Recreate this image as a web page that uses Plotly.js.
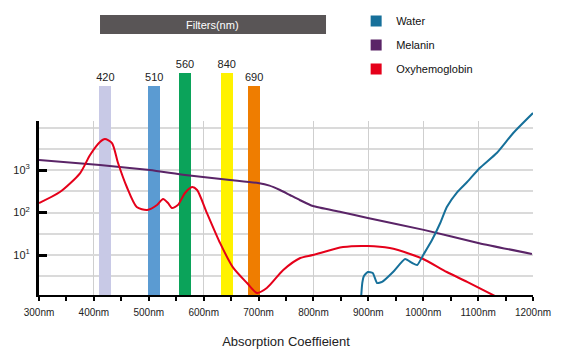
<!DOCTYPE html>
<html>
<head>
<meta charset="utf-8">
<script src="https://cdn.plot.ly/plotly-3.0.1.min.js"></script>
<style>html,body{margin:0;padding:0;background:#fff;}#chart{width:587px;height:353px;}</style>
</head>
<body>
<div id="chart"></div>
<script>
// ---- data ----
var melaninNm  = [300, 411, 502, 566, 648, 699, 720, 739, 757, 775, 799, 850, 899, 1001, 1102, 1198];
var melaninVal = [1718, 1312, 1000, 762, 582, 494, 430, 338, 258, 197, 142, 103, 74, 39, 19, 10.6];

var oxyNm  = [300, 338, 375, 393, 411, 420, 433, 444, 460, 478, 497, 515, 526, 535, 542, 553, 566, 579, 588, 606, 630, 653, 679, 697, 715, 745, 776, 799, 854, 899, 939, 976, 1000, 1043, 1080, 1131];
var oxyVal = [167, 303, 849, 2254, 4560, 5360, 4315, 1462, 398, 135, 115, 150, 208, 167, 128, 150, 288, 398, 338, 97, 19, 5.2, 2.19, 1.28, 1.67, 4.44, 8.5, 10, 15.4, 16.3, 14.6, 10.6, 8.05, 3.98, 2.32, 1.08];

var waterNm  = [887, 889, 892, 899, 908, 916, 925, 945, 967, 980, 989, 1000, 1016, 1031, 1043, 1062, 1080, 1103, 1134, 1164, 1200];
var waterVal = [1.08, 2.2, 3.2, 3.98, 3.77, 2.19, 2.32, 3.98, 8.05, 6.48, 5.82, 10, 22.5, 56.6, 135, 303, 522, 1114, 2512, 7430, 21900];

var filterNm     = [421, 510, 566, 642, 692];
var filterLabels = ['420', '510', '560', '840', '690'];

var xTickVals  = [300, 400, 500, 600, 700, 800, 900, 1000, 1100, 1200];
var xTickText  = xTickVals.map(function (v) { return v + 'nm'; });
var yTickVals  = [10, 100, 1000];
var yTickText  = ['10<sup>1</sup>', '10<sup>2</sup>', '10<sup>3</sup>'];
var yGridMinor = [Math.pow(10, 0.5), Math.pow(10, 1.5), Math.pow(10, 2.5), Math.pow(10, 3.5), 10000];

var seriesNames = ['Water', 'Melanin', 'Oxyhemoglobin'];

// ---- styles ----
var colors = {Water: '#16709a', Melanin: '#5a2467', Oxyhemoglobin: '#e5001a'};
var filterColors = ['#c8c9e6', '#5b9bd2', '#0ba35a', '#fff200', '#ef7d00'];
var filterHeights = [0.7085, 0.7085, 0.7525, 0.7525, 0.7085];
var font = 'Liberation Sans, Arial, sans-serif';

var traces = [];
// legend entries (square swatches) live on the gridded base subplot
seriesNames.forEach(function (n, i) {
  traces.push({type: 'scatter', mode: 'markers', x: [null], y: [null], name: n, legendgroup: 'g' + i,
    marker: {symbol: 'square', size: 11, color: colors[n]}, xaxis: 'x', yaxis: 'y', hoverinfo: 'skip'});
});
traces.push({
  type: 'bar', x: filterNm, y: filterHeights, width: 22,
  marker: {color: filterColors, line: {width: 0}},
  text: filterLabels, textposition: 'outside', cliponaxis: false, constraintext: 'none',
  textfont: {family: font, size: 11, color: '#222'},
  xaxis: 'x2', yaxis: 'y2', showlegend: false, hoverinfo: 'skip'
});
traces.push({type: 'scatter', mode: 'lines', x: melaninNm, y: melaninVal, line: {color: colors.Melanin, width: 2, shape: 'spline', smoothing: 0.5}, xaxis: 'x3', yaxis: 'y3', showlegend: false});
traces.push({type: 'scatter', mode: 'lines', x: oxyNm, y: oxyVal, line: {color: colors.Oxyhemoglobin, width: 2, shape: 'spline', smoothing: 0.7}, xaxis: 'x3', yaxis: 'y3', showlegend: false});
traces.push({type: 'scatter', mode: 'lines', x: waterNm, y: waterVal, line: {color: colors.Water, width: 2, shape: 'spline', smoothing: 0.5}, xaxis: 'x3', yaxis: 'y3', showlegend: false});

var xr = [300, 1200];
var layout = {
  width: 587, height: 353,
  margin: {l: 39, r: 54, t: 0, b: 58, autoexpand: false},
  paper_bgcolor: '#fff', plot_bgcolor: 'rgba(0,0,0,0)',
  font: {family: font, color: '#222'},
  showlegend: true,
  legend: {x: 0.642, y: 0.978, xanchor: 'left', yanchor: 'top', font: {family: font, size: 11, color: '#111'},
    traceorder: 'grouped', tracegroupgap: 5, bgcolor: 'rgba(0,0,0,0)'},
  xaxis: {
    domain: [0, 1], anchor: 'y', range: xr, tickmode: 'array', tickvals: xTickVals, ticktext: xTickText,
    ticks: 'outside', ticklen: 4, tickwidth: 2, tickcolor: '#000',
    showline: true, linewidth: 2, linecolor: '#000',
    showgrid: true, gridcolor: '#cfcfcf', gridwidth: 1, zeroline: false,
    minor: {dtick: 50, tick0: 300, ticks: 'outside', ticklen: 4, tickwidth: 2, tickcolor: '#000', showgrid: false},
    tickfont: {family: font, size: 10, color: '#222'}, ticklabelstandoff: 3,
    title: {text: 'Absorption Coeffieient', font: {family: font, size: 13, color: '#222'}, standoff: 20}
  },
  yaxis: {
    domain: [0, 0.5898], anchor: 'x', type: 'log', range: [0.059, 4.153],
    tickmode: 'array', tickvals: yTickVals, ticktext: yTickText,
    ticks: 'inside', ticklen: 8, tickwidth: 3, tickcolor: '#000',
    showline: true, linewidth: 3, linecolor: '#000',
    showgrid: true, gridcolor: '#dadada', gridwidth: 2, zeroline: false,
    minor: {tickmode: 'array', tickvals: yGridMinor, showgrid: true, gridcolor: '#dadada', gridwidth: 2, ticks: ''},
    tickfont: {family: font, size: 11, color: '#222'}, ticklabelstandoff: 4
  },
  xaxis2: {domain: [0, 1], anchor: 'y2', range: xr, visible: false, fixedrange: true},
  yaxis2: {domain: [0, 1], anchor: 'x2', range: [0, 1], visible: false, fixedrange: true},
  xaxis3: {domain: [0, 1], anchor: 'y3', range: xr, visible: false},
  yaxis3: {domain: [0, 0.6339], anchor: 'x3', type: 'log', range: [0.059, 4.459], visible: false},
  bargap: 0,
  shapes: [{type: 'rect', xref: 'paper', yref: 'paper', x0: 0.1235, x1: 0.581, y0: 0.8847, y1: 0.9492,
    fillcolor: '#595556', line: {width: 0}, layer: 'above'}],
  annotations: [{xref: 'paper', yref: 'paper', x: 0.352, y: 0.9169, text: 'Filters(nm)', showarrow: false,
    font: {family: font, size: 11, color: '#fff'}, xanchor: 'center', yanchor: 'middle'}]
};

Plotly.newPlot('chart', traces, layout, {displayModeBar: false, staticPlot: true});
</script>
</body>
</html>
